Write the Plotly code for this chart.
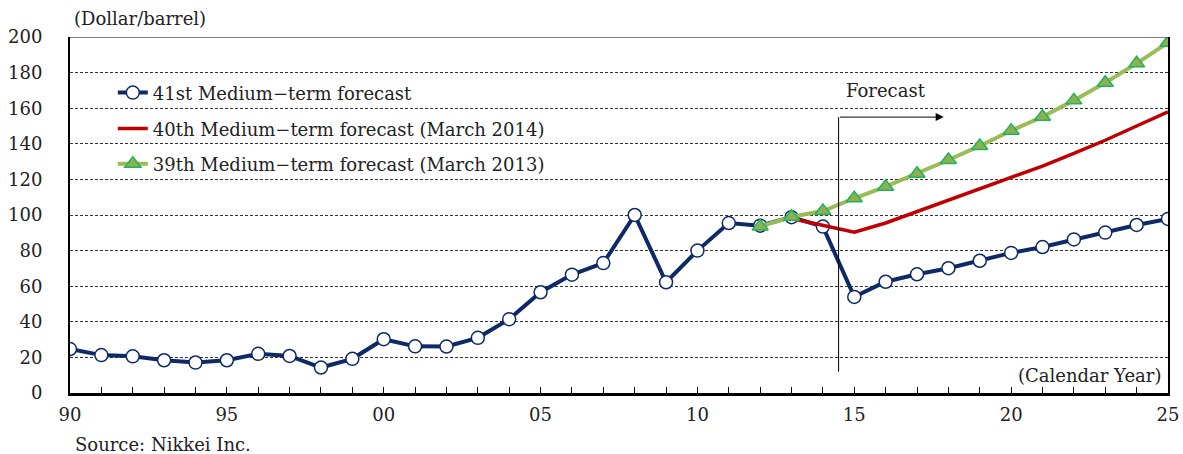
import plotly.graph_objects as go

# Calendar years on the x axis
years = list(range(1990, 2026))

# 41st medium-term forecast (actuals through 2014, forecast afterwards), $/bbl
f41_values = [24.7, 21.3, 20.6, 18.4, 17.1, 18.4, 22.0, 20.8, 14.3, 19.2,
              30.2, 26.2, 26.1, 31.0, 41.5, 56.6, 66.5, 73.0, 100.0, 62.2,
              80.0, 95.5, 94.0, 98.8, 93.5, 54.0, 62.5, 66.7, 70.1, 74.3,
              78.7, 82.0, 86.3, 90.1, 94.4, 97.8]

# 40th medium-term forecast (March 2014)
f40_years = list(range(2013, 2026))
f40_values = [98.0, 94.2, 90.3, 95.5, 101.9, 108.4, 115.0, 121.3, 127.5,
              134.6, 142.0, 150.0, 158.0]

# 39th medium-term forecast (March 2013)
f39_years = list(range(2012, 2026))
f39_values = [93.6, 99.0, 102.2, 109.4, 115.9, 123.2, 130.9, 138.8, 147.4,
              155.2, 164.4, 174.3, 185.2, 196.8]

y_ticks = list(range(0, 201, 20))
x_tick_labels = {1990: "90", 1995: "95", 2000: "00", 2005: "05",
                 2010: "10", 2015: "15", 2020: "20", 2025: "25"}

FONT = "DejaVu Serif"
FS = 18
TXT = "#222222"
NAVY = "#0d2a66"
RED = "#c00000"
GREEN_LINE = "#9bbb59"
GREEN_FILL = "#8fb052"
GREEN_EDGE = "#1fb45a"

fig = go.Figure()

fig.add_trace(go.Scatter(
    x=years, y=f41_values, mode="lines+markers",
    name="41st Medium\u2212term forecast",
    line=dict(color=NAVY, width=4),
    marker=dict(symbol="circle", size=13, color="white",
                line=dict(color=NAVY, width=1.5)),
    legend="legend",
))
fig.add_trace(go.Scatter(
    x=f40_years, y=f40_values, mode="lines",
    name="40th Medium\u2212term forecast (March 2014)",
    line=dict(color=RED, width=3.5),
    legend="legend2",
))
fig.add_trace(go.Scatter(
    x=f39_years, y=f39_values, mode="lines+markers",
    name="39th Medium\u2212term forecast (March 2013)",
    line=dict(color=GREEN_LINE, width=4),
    marker=dict(symbol="triangle-up", size=14, color=GREEN_FILL,
                line=dict(color=GREEN_EDGE, width=1.5)),
    legend="legend3",
))

legend_common = dict(
    font=dict(family=FONT, size=FS, color=TXT),
    bgcolor="rgba(0,0,0,0)", xanchor="left", yanchor="middle",
    itemwidth=30,
)

# Forecast marker: vertical line from the boundary year up to an arrow
fig.add_shape(type="line", xref="x", yref="y", x0=2014.5, x1=2014.5, y0=12, y1=155,
              line=dict(color="black", width=1))
fig.add_annotation(x=2017.85, y=155, ax=2014.5, ay=155, xref="x", yref="y",
                   axref="x", ayref="y", text="", showarrow=True,
                   arrowhead=2, arrowsize=1.6, arrowwidth=1, arrowcolor="black")
fig.add_annotation(x=2016.0, y=170, xref="x", yref="y", text="Forecast",
                   showarrow=False, font=dict(family=FONT, size=FS, color=TXT))

# Top frame line
fig.add_shape(type="line", xref="paper", yref="y", x0=0, x1=1, y0=200, y1=200,
              line=dict(color="#555555", width=1.5))

# Axis captions and source
fig.add_annotation(x=0.002, y=1.0, xref="paper", yref="paper", yshift=6,
                   text="(Dollar/barrel)", showarrow=False, xanchor="left",
                   yanchor="bottom", font=dict(family=FONT, size=FS, color=TXT))
fig.add_annotation(x=0.995, y=0.048, xref="paper", yref="paper",
                   text="(Calendar Year)", showarrow=False, xanchor="right",
                   yanchor="middle", font=dict(family=FONT, size=FS, color=TXT))
fig.add_annotation(x=0.003, y=-0.146, xref="paper", yref="paper",
                   text="Source: Nikkei Inc.", showarrow=False, xanchor="left",
                   yanchor="middle", font=dict(family=FONT, size=FS, color=TXT))
fig.add_annotation(x=0.46, y=1.0, xref="paper", yref="paper", yshift=36,
                   text="Long\u2212term crude oil price (WTI)", showarrow=False,
                   xanchor="center", yanchor="bottom",
                   font=dict(family=FONT, size=22, color="#111111"))

fig.update_layout(
    width=1183, height=454,
    margin=dict(l=70, r=15, t=37, b=61, autoexpand=False),
    paper_bgcolor="white", plot_bgcolor="white",
    font=dict(family=FONT, size=FS, color=TXT),
    showlegend=True,
    legend=dict(x=0.039, y=0.843, **legend_common),
    legend2=dict(x=0.039, y=0.742, **legend_common),
    legend3=dict(x=0.039, y=0.643, **legend_common),
    xaxis=dict(
        range=[1990, 2025], tickvals=years,
        ticktext=[x_tick_labels.get(y, "") for y in years],
        ticks="inside", ticklen=6, tickwidth=1, tickcolor="black",
        showline=True, linecolor="black", linewidth=2.5,
        showgrid=False, zeroline=False, automargin=False,
        ticklabelstandoff=4,
        tickfont=dict(family=FONT, size=FS, color=TXT),
    ),
    yaxis=dict(
        range=[0, 200], tickvals=y_ticks,
        showline=True, linecolor="black", linewidth=2, mirror=True,
        showgrid=True, gridcolor="#333333", griddash="3px,2px", gridwidth=1,
        zeroline=False, ticks="", ticklabelstandoff=22, automargin=False,
        tickfont=dict(family=FONT, size=FS, color=TXT),
    ),
)

fig.write_html("out.html")
